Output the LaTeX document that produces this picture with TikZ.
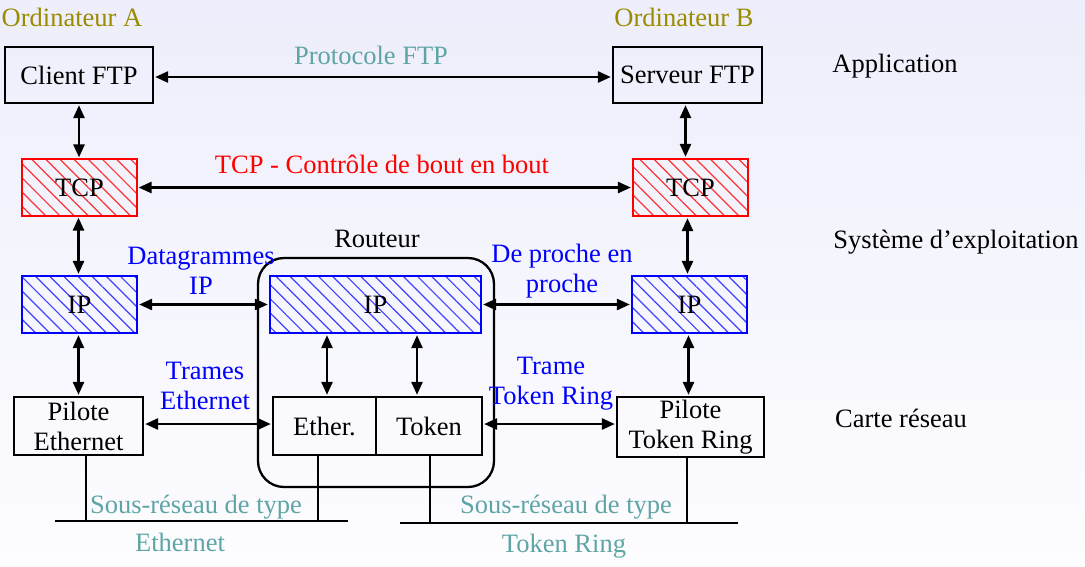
\documentclass[tikz,border=0pt]{standalone}
\usepackage{fontspec}
\setmainfont{Liberation Serif}
\usetikzlibrary{arrows.meta,patterns.meta,calc}
\definecolor{olive}{RGB}{153,140,0}
\definecolor{tealc}{RGB}{95,165,165}
\definecolor{bgtop}{RGB}{238,238,252}
\definecolor{bgbot}{RGB}{253,253,255}
\tikzset{
  every node/.style={font=\fontsize{26.5}{30}\selectfont},
  box/.style={draw=black,line width=2.3pt,inner sep=0pt,align=center},
  tcpbox/.style={draw=red,line width=2.3pt,inner sep=0pt,minimum width=115pt,minimum height=57pt,
    pattern={Lines[angle=-45,distance=10pt,line width=1.2pt]},pattern color=red!80},
  ipbox/.style={draw=blue,line width=2.3pt,inner sep=0pt,minimum height=57pt,
    pattern={Lines[angle=-45,distance=10pt,line width=1.2pt]},pattern color=blue!75},
  biarrow/.style={line width=2.6pt,{Triangle[length=13pt,width=11pt]}-{Triangle[length=13pt,width=11pt]},shorten <=1pt,shorten >=1pt},
  wire/.style={line width=2.5pt},
  lbl/.style={inner sep=0pt,align=center}
}
\begin{document}
\begin{tikzpicture}[x=1pt,y=-1pt]
\shade[top color=bgtop,bottom color=bgbot] (0,0) rectangle (1085,566);
\useasboundingbox (0,0) rectangle (1085,566);

% titles
\node[lbl,text=olive] (ordA) at (72,17) {Ordinateur A};
\node[lbl,text=olive] (ordB) at (684,17) {Ordinateur B};
\node[lbl] (app) at (895,66) {Application};
\node[lbl] (sys) at (956,242) {Système d’exploitation};
\node[lbl] (carte) at (901,418) {Carte réseau};

% router frame
\node[draw,line width=2.3pt,rounded corners=26pt,minimum width=236pt,minimum height=229pt] (routeur) at (376,372.5) {};
\node[lbl] (routeurlbl) at (377,239) {Routeur};

% boxes
\node[box,minimum width=148pt,minimum height=56pt] (client) at (79,75) {Client FTP};
\node[box,minimum width=149pt,minimum height=56pt] (serveur) at (687.5,75) {Serveur FTP};
\node[tcpbox] (tcpA) at (79.5,187.5) {TCP};
\node[tcpbox] (tcpB) at (690.5,187.5) {TCP};
\node[ipbox,minimum width=115pt] (ipA) at (79.5,304.5) {IP};
\node[ipbox,minimum width=211pt] (ipR) at (375.5,304.5) {IP};
\node[ipbox,minimum width=115pt] (ipB) at (689.5,304.5) {IP};
\node[box,minimum width=103pt,minimum height=58pt] (ether) at (324.5,426) {Ether.};
\node[box,minimum width=106pt,minimum height=58pt] (token) at (429,426) {Token};
\node[box,minimum width=129pt,minimum height=58pt] (pilE) at (78.5,426) {Pilote\\Ethernet};
\node[box,minimum width=147pt,minimum height=60pt] (pilT) at (690.5,427) {Pilote\\Token Ring};

% horizontal arrows
\draw[biarrow] ([yshift=-2pt]client.east) -- ([yshift=-2pt]serveur.west);
\draw[biarrow] (tcpA.east) -- (tcpB.west);
\draw[biarrow] (ipA.east) -- (ipR.west);
\draw[biarrow] (ipR.east) -- (ipB.west);
\draw[biarrow] ([yshift=2pt]pilE.east) -- ([yshift=2pt]ether.west);
\draw[biarrow] ([yshift=2pt]token.east) -- ([yshift=2pt]token.east -| pilT.west);

% vertical arrows
\draw[biarrow] (client.south) -- (client.south |- tcpA.north);
\draw[biarrow] ([xshift=-2pt]serveur.south) -- ([xshift=-2pt]serveur.south |- tcpB.north);
\draw[biarrow] ([xshift=-1pt]tcpA.south) -- ([xshift=-1pt]tcpA.south |- ipA.north);
\draw[biarrow] ([xshift=-3pt]tcpB.south) -- ([xshift=-3pt]tcpB.south |- ipB.north);
\draw[biarrow] ([xshift=-1pt]ipA.south) -- ([xshift=-1pt]ipA.south |- pilE.north);
\draw[biarrow] ([xshift=-1pt]ipB.south) -- ([xshift=-1pt]ipB.south |- pilT.north);
\draw[biarrow] ([xshift=2.5pt]ether.north |- ipR.south) -- ([xshift=2.5pt]ether.north);
\draw[biarrow] ([xshift=-12pt]token.north |- ipR.south) -- ([xshift=-12pt]token.north);

% network buses
\coordinate (busEa) at (55,521);
\coordinate (busEb) at (348,521);
\coordinate (busTa) at (400,523);
\coordinate (busTb) at (738,523);
\draw[wire] (busEa) -- (busEb);
\draw[wire] (busTa) -- (busTb);
\draw[line width=2.2pt] ([xshift=7.5pt]pilE.south) -- ([xshift=7.5pt]pilE.south |- busEa);
\draw[line width=2.2pt] ([xshift=-6.5pt]ether.south) -- ([xshift=-6.5pt]ether.south |- busEa);
\draw[line width=2.2pt] ([xshift=1pt]token.south) -- ([xshift=1pt]token.south |- busTa);
\draw[line width=2.2pt] ([xshift=-3.5pt]pilT.south) -- ([xshift=-3.5pt]pilT.south |- busTa);

% labels
\node[lbl,text=tealc] (ftp) at (371,55) {Protocole FTP};
\node[lbl,text=red] (tcpl) at (382,164) {TCP - Contrôle de bout en bout};
\node[lbl,text=blue] (dg) at (201,271) {Datagrammes\\IP};
\node[lbl,text=blue] (dp) at (562,271) {De proche en\\proche};
\node[lbl,text=blue] (tr1) at (205,386) {Trames\\Ethernet};
\node[lbl,text=blue] (tr2) at (551,384) {Trame\\Token Ring};
\node[lbl,text=tealc] (sr1) at (196,507) {Sous-réseau de type};
\node[lbl,text=tealc] (sr1b) at (180,542) {Ethernet};
\node[lbl,text=tealc] (sr2) at (566,507) {Sous-réseau de type};
\node[lbl,text=tealc] (sr2b) at (564,546) {Token Ring};
\end{tikzpicture}
\end{document}
